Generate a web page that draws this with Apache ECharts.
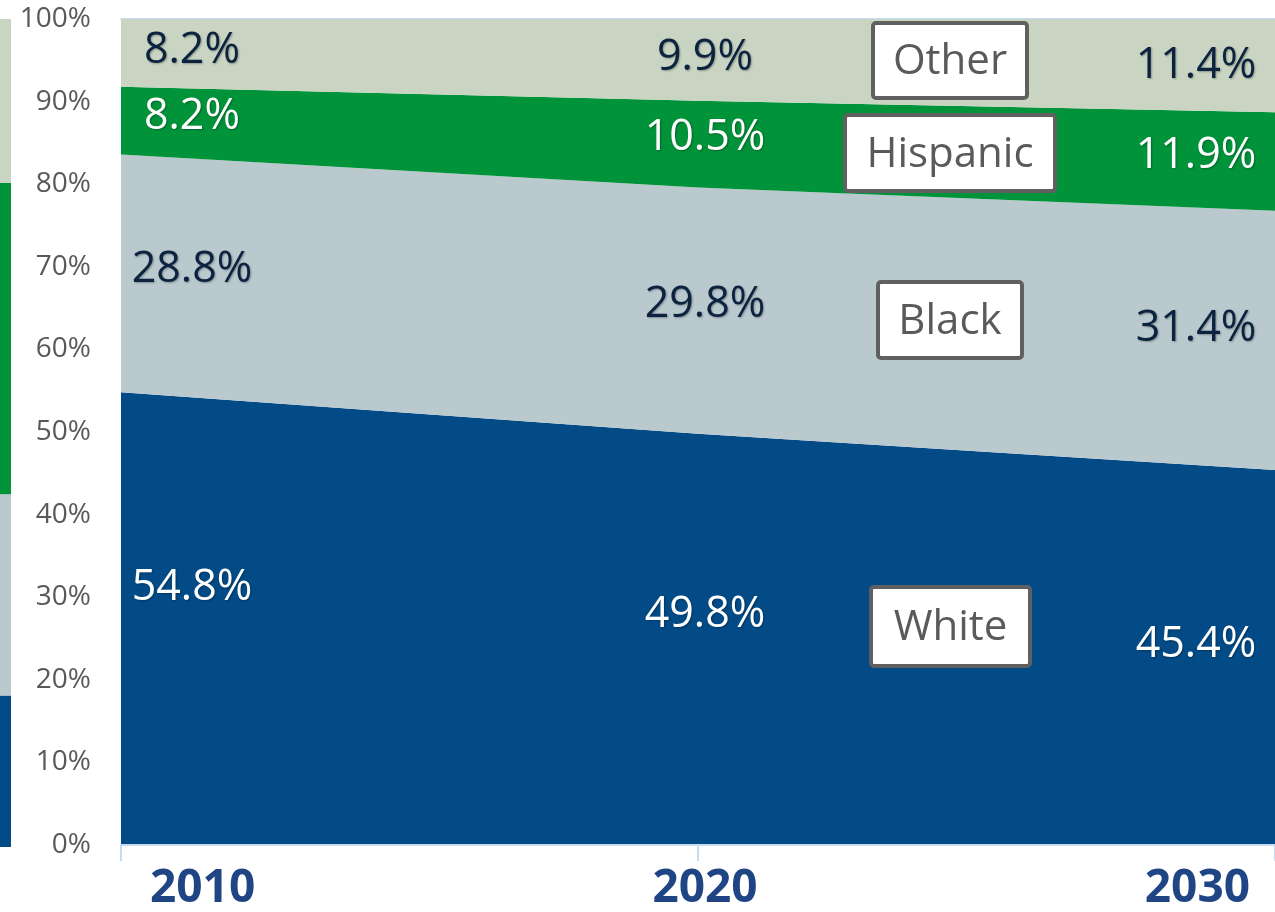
<!DOCTYPE html>
<html>
<head>
<meta charset="utf-8">
<script src="https://cdn.jsdelivr.net/npm/echarts@6/dist/echarts.min.js"></script>
<style>
html,body{margin:0;padding:0;background:#fff;}
#chart{width:1275px;height:912px;}
</style>
</head>
<body>
<div id="chart"></div>
<script>
// ---- data ----
const years = ['2010', '2020', '2030'];
const seriesNames = ['White', 'Black', 'Hispanic', 'Other'];
const white = [54.8, 49.8, 45.4];
const black = [28.8, 29.8, 31.4];
const hispanic = [8.2, 10.5, 11.9];
const other = [8.2, 9.9, 11.4];
const yTicks = [0, 10, 20, 30, 40, 50, 60, 70, 80, 90, 100];
// partial strip of the neighbouring chart at the left edge
const stripValues = [18.3, 24.3, 37.6, 19.8];

// ---- style ----
const colors = ['#024b87', '#b9c9ce', '#009339', '#c9d5c2'];
const labelColors = ['#ffffff', '#0c2340', '#ffffff', '#0c2340'];
const labelDy = [[-31, -25, -13], [-4, -6, -12], [-4, -6, -6], [-2, -2, 0]];
const labelDx = [71, 7, -79];
const FONT = '"Open Sans", "Noto Sans", sans-serif';

const values = [white, black, hispanic, other];

// midpoints of each stacked segment, from the data
const labelSeries = values.map((arr, si) => {
  const data = arr.map((v, i) => {
    let base = 0;
    for (let k = 0; k < si; k++) base += values[k][i];
    return {
      value: [i, base + v / 2],
      label: { offset: [labelDx[i], labelDy[si][i]] },
      raw: v
    };
  });
  return {
    type: 'scatter',
    xAxisIndex: 0, yAxisIndex: 0,
    symbolSize: 0,
    silent: true,
    z: 5,
    itemStyle: { opacity: 1 },
    data: data,
    label: {
      show: true,
      position: 'inside',
      formatter: p => p.data.raw.toFixed(1) + '%',
      fontFamily: FONT,
      fontSize: 43,
      color: labelColors[si],
      opacity: 1,
      textShadowColor: 'rgba(0,0,0,0.3)',
      textShadowBlur: 2,
      textShadowOffsetX: 1,
      textShadowOffsetY: 1
    }
  };
});

const areaSeries = values.map((arr, si) => ({
  name: seriesNames[si],
  type: 'line',
  stack: 'total',
  xAxisIndex: 0, yAxisIndex: 0,
  data: arr,
  showSymbol: false,
  symbol: 'none',
  lineStyle: { width: 0 },
  areaStyle: { color: colors[si], opacity: 1 },
  itemStyle: { color: colors[si] },
  z: 2
}));

const stripSeries = stripValues.map((v, si) => ({
  type: 'bar',
  stack: 'strip',
  xAxisIndex: 2, yAxisIndex: 1,
  data: [v],
  barWidth: '100%',
  itemStyle: { color: colors[si] },
  silent: true
}));

// legend-style boxes
const boxes = [
  { text: 'Other', x: 873, y: 23, w: 154, h: 75 },
  { text: 'Hispanic', x: 845, y: 115, w: 210, h: 76 },
  { text: 'Black', x: 878, y: 282, w: 144, h: 76 },
  { text: 'White', x: 871, y: 587, w: 159, h: 79 }
];
const graphics = [];
boxes.forEach(b => {
  graphics.push({ type: 'rect', z: 100, shape: { x: b.x, y: b.y, width: b.w, height: b.h, r: 3 },
    style: { fill: '#ffffff', stroke: '#606060', lineWidth: 4 } });
  graphics.push({ type: 'text', z: 101, x: b.x + b.w / 2, y: b.y + b.h / 2 + 2,
    style: { text: b.text, fill: '#5a5a5a', fontSize: 42, fontFamily: FONT,
             align: 'center', verticalAlign: 'middle' } });
});

const chart = echarts.init(document.getElementById('chart'), null, { renderer: 'canvas' });
chart.setOption({
  animation: false,
  backgroundColor: '#ffffff',
  grid: [
    { left: 121, right: 0, top: 19, bottom: 65, containLabel: false },
    { left: 0, width: 11, top: 19, bottom: 65, containLabel: false }
  ],
  xAxis: [
    {
      type: 'category', gridIndex: 0, data: years, boundaryGap: false,
      axisLine: { show: true, lineStyle: { color: '#c5ddf3', width: 2 } },
      axisTick: { show: true, length: 16, lineStyle: { color: '#c5ddf3', width: 2 } },
      axisLabel: {
        margin: 21,
        fontFamily: FONT,
        fontWeight: 'bold',
        fontSize: 46,
        color: '#1f4585',
        alignMinLabel: 'left',
        alignMaxLabel: 'right',
        formatter: (v, i) => i === 0 ? '{l|' + v + '}' : (i === years.length - 1 ? '{r|' + v + '}' : '{m|' + v + '}'),
        rich: {
          l: { padding: [0, 0, 0, 29], fontFamily: FONT, fontWeight: 'bold', fontSize: 46, color: '#1f4585' },
          m: { padding: [0, 0, 0, 14], fontFamily: FONT, fontWeight: 'bold', fontSize: 46, color: '#1f4585' },
          r: { padding: [0, 25, 0, 0], fontFamily: FONT, fontWeight: 'bold', fontSize: 46, color: '#1f4585' }
        }
      },
      splitLine: { show: false },
      z: 6
    },
    {
      type: 'category', gridIndex: 0, data: years, boundaryGap: false, position: 'top',
      axisLine: { show: true, lineStyle: { color: '#c5ddf3', width: 2 } },
      axisTick: { show: false }, axisLabel: { show: false }, splitLine: { show: false }
    },
    {
      type: 'category', gridIndex: 1, data: ['x'], show: false
    }
  ],
  yAxis: [
    {
      type: 'value', gridIndex: 0, min: yTicks[0], max: yTicks[yTicks.length - 1], interval: 10,
      axisLine: { show: false }, axisTick: { show: false }, splitLine: { show: false },
      axisLabel: {
        margin: 30,
        formatter: '{value}%',
        fontFamily: FONT,
        fontSize: 28,
        color: '#595959'
      }
    },
    { type: 'value', gridIndex: 1, min: 0, max: 100, show: false }
  ],
  series: [...areaSeries, ...labelSeries, ...stripSeries],
  graphic: graphics
});
</script>
</body>
</html>
